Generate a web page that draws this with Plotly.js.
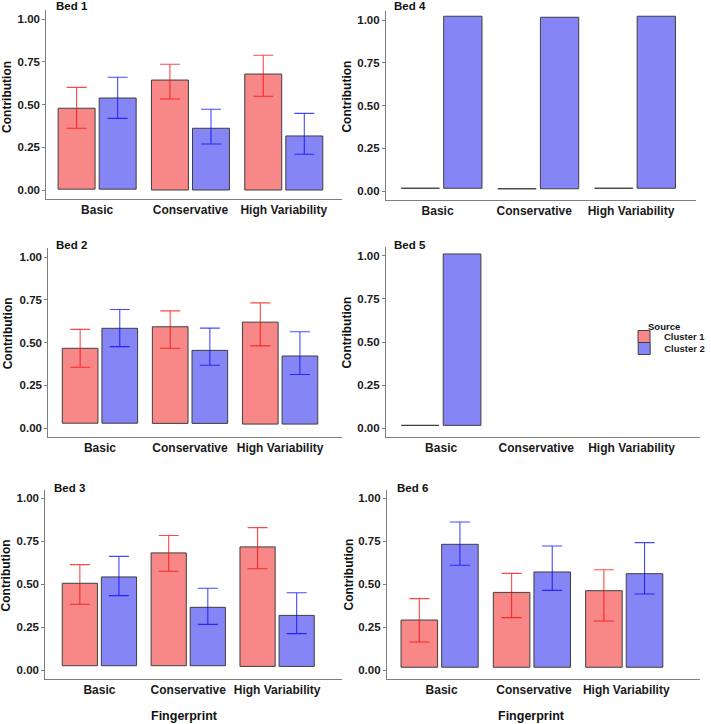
<!DOCTYPE html>
<html><head><meta charset="utf-8">
<script src="https://cdn.plot.ly/plotly-3.0.1.min.js"></script>
<style>html,body{margin:0;padding:0;background:#fff}#chart{width:711px;height:724px}</style>
</head><body><div id="chart"></div>
<script>
// ---------------- DATA ----------------
const categories = ['Basic', 'Conservative', 'High Variability'];
const tickValues = [0, 0.25, 0.5, 0.75, 1];
const tickLabels = ['0.00', '0.25', '0.50', '0.75', '1.00'];
const seriesNames = ['Cluster 1', 'Cluster 2'];

// Bed 1
const bed1Cluster1 = [0.478, 0.643, 0.678];
const bed1Cluster1Upper = [0.600, 0.735, 0.788];
const bed1Cluster1Lower = [0.361, 0.532, 0.548];
const bed1Cluster2 = [0.538, 0.361, 0.316];
const bed1Cluster2Upper = [0.659, 0.472, 0.448];
const bed1Cluster2Lower = [0.419, 0.269, 0.209];
const bed1Baseline = [0.005, 0.0, 0.0];

// Bed 2
const bed2Cluster1 = [0.466, 0.592, 0.619];
const bed2Cluster1Upper = [0.577, 0.685, 0.732];
const bed2Cluster1Lower = [0.355, 0.466, 0.480];
const bed2Cluster2 = [0.583, 0.454, 0.421];
const bed2Cluster2Upper = [0.693, 0.584, 0.563];
const bed2Cluster2Lower = [0.476, 0.367, 0.313];
const bed2Baseline = [0.028, 0.027, 0.023];

// Bed 3
const bed3Cluster1 = [0.505, 0.682, 0.717];
const bed3Cluster1Upper = [0.614, 0.783, 0.829];
const bed3Cluster1Lower = [0.383, 0.575, 0.590];
const bed3Cluster2 = [0.542, 0.365, 0.318];
const bed3Cluster2Upper = [0.662, 0.476, 0.450];
const bed3Cluster2Lower = [0.433, 0.266, 0.212];
const bed3Baseline = [0.025, 0.025, 0.021];

// Bed 4
const bed4Cluster1 = [0.016, 0.013, 0.016];
const bed4Cluster2 = [1.022, 1.016, 1.022];
const bed4Baseline = [0.016, 0.013, 0.016];

// Bed 5
const bed5Cluster1 = [0.017, null, null];
const bed5Cluster2 = [1.010, null, null];
const bed5Baseline = [0.017, null, null];

// Bed 6
const bed6Cluster1 = [0.291, 0.452, 0.462];
const bed6Cluster1Upper = [0.416, 0.563, 0.584];
const bed6Cluster1Lower = [0.163, 0.305, 0.285];
const bed6Cluster2 = [0.732, 0.571, 0.561];
const bed6Cluster2Upper = [0.862, 0.722, 0.742];
const bed6Cluster2Lower = [0.610, 0.464, 0.443];
const bed6Baseline = [0.016, 0.016, 0.016];

// ---------------- STYLE / LAYOUT ----------------
const W = 711, H = 724;
const FONT = 'Liberation Sans, Arial, Helvetica, sans-serif';
const fillC1 = '#F88787';
const fillC2 = '#8585F5';
const errC1 = 'rgba(255,0,0,0.72)';
const errC2 = 'rgba(0,0,255,0.72)';
const barEdge = '#3f3f3f';
const axisGrey = '#7f7f7f';

const fx = p => p / W;
const fy = p => 1 - p / H;

// panel geometry in pixels: x extent of axis line, pixel of y=0 and y=1, x range
const panels = [
  {key: '',  title: 'Bed 1', x0: 47,  x1: 347, p0: 190,   p1: 19,    xr: [-0.545, 2.62],  shift: 0,  tx: 55,  ty: 6,     ytx: 7,   yty: 97},
  {key: '2', title: 'Bed 4', x0: 392, x1: 707, p0: 191,   p1: 20,    xr: [-0.575, 2.631], shift: -4, tx: 398, ty: 6.5,   ytx: 352, yty: 97},
  {key: '3', title: 'Bed 2', x0: 49,  x1: 347, p0: 428,   p1: 257,   xr: [-0.574, 2.683], shift: 0,  tx: 55,  ty: 245,   ytx: 8.5, yty: 333},
  {key: '4', title: 'Bed 5', x0: 392, x1: 711, p0: 428.3, p1: 255.7, xr: [-0.58, 2.72],   shift: 0,  tx: 398, ty: 245.5, ytx: 352, yty: 333},
  {key: '5', title: 'Bed 3', x0: 46,  x1: 347, p0: 670,   p1: 498.3, xr: [-0.609, 2.726], shift: 0,  tx: 53,  ty: 487.5, ytx: 6.5, yty: 575},
  {key: '6', title: 'Bed 6', x0: 393, x1: 711, p0: 670,   p1: 498.3, xr: [-0.571, 2.821], shift: 2,  tx: 401, ty: 488,   ytx: 354, yty: 575}
];

const bedData = {
  '':  {c1: bed1Cluster1, c1u: bed1Cluster1Upper, c1l: bed1Cluster1Lower, c2: bed1Cluster2, c2u: bed1Cluster2Upper, c2l: bed1Cluster2Lower, base: bed1Baseline},
  '2': {c1: bed4Cluster1, c2: bed4Cluster2, base: bed4Baseline},
  '3': {c1: bed2Cluster1, c1u: bed2Cluster1Upper, c1l: bed2Cluster1Lower, c2: bed2Cluster2, c2u: bed2Cluster2Upper, c2l: bed2Cluster2Lower, base: bed2Baseline},
  '4': {c1: bed5Cluster1, c2: bed5Cluster2, base: bed5Baseline},
  '5': {c1: bed3Cluster1, c1u: bed3Cluster1Upper, c1l: bed3Cluster1Lower, c2: bed3Cluster2, c2u: bed3Cluster2Upper, c2l: bed3Cluster2Lower, base: bed3Baseline},
  '6': {c1: bed6Cluster1, c1u: bed6Cluster1Upper, c1l: bed6Cluster1Lower, c2: bed6Cluster2, c2u: bed6Cluster2Upper, c2l: bed6Cluster2Lower, base: bed6Baseline}
};

function heights(tops, base) {
  return tops.map((t, i) => (t === null ? null : t - base[i]));
}
function errObj(tops, upper, lower, color) {
  if (!upper) return {visible: false};
  return {
    type: 'data', symmetric: false,
    array: upper.map((u, i) => u - tops[i]),
    arrayminus: lower.map((l, i) => tops[i] - l),
    color: color, thickness: 1.1, width: 10
  };
}

const traces = [];
panels.forEach((p, idx) => {
  const d = bedData[p.key];
  const first = idx === 0;
  traces.push({
    type: 'bar', name: seriesNames[0], x: categories, y: heights(d.c1, d.base), base: d.base,
    xaxis: 'x' + p.key, yaxis: 'y' + p.key, offsetgroup: '1',
    marker: {color: fillC1, line: {color: barEdge, width: 1}},
    error_y: errObj(d.c1, d.c1u, d.c1l, errC1),
    showlegend: first, legend: 'legend', hoverinfo: 'skip'
  });
  traces.push({
    type: 'bar', name: seriesNames[1], x: categories, y: heights(d.c2, d.base), base: d.base,
    xaxis: 'x' + p.key, yaxis: 'y' + p.key, offsetgroup: '2',
    marker: {color: fillC2, line: {color: barEdge, width: 1}},
    error_y: errObj(d.c2, d.c2u, d.c2l, errC2),
    showlegend: first, legend: 'legend2', hoverinfo: 'skip'
  });
});

const tickFont = {family: FONT, size: 11.5, color: '#1a1a1a', weight: 700};
const legendFont = {family: FONT, size: 9.5, color: '#1a1a1a', weight: 700};
const layout = {
  width: W, height: H,
  margin: {l: 0, r: 0, t: 0, b: 0, pad: 0},
  paper_bgcolor: '#ffffff', plot_bgcolor: 'rgba(0,0,0,0)',
  barmode: 'group', bargap: 0.12, bargroupgap: 0.1,
  font: {family: FONT, color: '#1a1a1a'},
  annotations: [],
  legend: {
    x: fx(634), y: fy(322), xanchor: 'left', yanchor: 'top',
    font: legendFont, bgcolor: 'rgba(0,0,0,0)', borderwidth: 0, itemwidth: 30
  },
  legend2: {
    x: fx(634), y: fy(334), xanchor: 'left', yanchor: 'top',
    font: legendFont, bgcolor: 'rgba(0,0,0,0)', borderwidth: 0, itemwidth: 30
  }
};

panels.forEach(p => {
  const unit = p.p0 - p.p1;
  const bottomPx = p.p0 + 0.05 * unit;
  const topPx = p.p1 - 0.05 * unit;
  layout['xaxis' + p.key] = {
    domain: [fx(p.x0), fx(p.x1)], anchor: 'y' + p.key,
    type: 'category', categoryorder: 'array', categoryarray: categories,
    range: p.xr, showline: true, linecolor: axisGrey, linewidth: 1,
    ticks: '', showgrid: false, zeroline: false, ticklabelshift: p.shift,
    tickfont: Object.assign({}, tickFont, {size: 12}),
    fixedrange: true
  };
  layout['yaxis' + p.key] = {
    domain: [fy(bottomPx), fy(topPx)], anchor: 'x' + p.key,
    range: [-0.05, 1.05], tickvals: tickValues, ticktext: tickLabels,
    showline: true, linecolor: axisGrey, linewidth: 1,
    ticks: 'outside', ticklen: 3, tickcolor: axisGrey, tickwidth: 1,
    showgrid: false, zeroline: false, tickfont: tickFont, fixedrange: true
  };
  layout.annotations.push({
    text: p.title, xref: 'paper', yref: 'paper', x: fx(p.tx), y: fy(p.ty),
    xanchor: 'left', yanchor: 'middle', showarrow: false,
    font: {family: FONT, size: 11.5, color: '#111', weight: 700}
  });
  layout.annotations.push({
    text: 'Contribution', xref: 'paper', yref: 'paper', x: fx(p.ytx), y: fy(p.yty),
    xanchor: 'center', yanchor: 'middle', textangle: -90, showarrow: false,
    font: {family: FONT, size: 12, color: '#111', weight: 700}
  });
});
layout.annotations.push({
  text: 'Fingerprint', xref: 'paper', yref: 'paper', x: fx(187), y: fy(716),
  xanchor: 'center', yanchor: 'middle', showarrow: false,
  font: {family: FONT, size: 12.5, color: '#111', weight: 700}
});
layout.annotations.push({
  text: 'Fingerprint', xref: 'paper', yref: 'paper', x: fx(540), y: fy(716),
  xanchor: 'center', yanchor: 'middle', showarrow: false,
  font: {family: FONT, size: 12.5, color: '#111', weight: 700}
});
layout.annotations.push({
  text: 'Source', xref: 'paper', yref: 'paper', x: fx(656), y: fy(326),
  xanchor: 'left', yanchor: 'middle', showarrow: false,
  font: {family: FONT, size: 9.5, color: '#111', weight: 700}
});

Plotly.newPlot('chart', traces, layout, {displayModeBar: false, staticPlot: true});
</script>
</body></html>
